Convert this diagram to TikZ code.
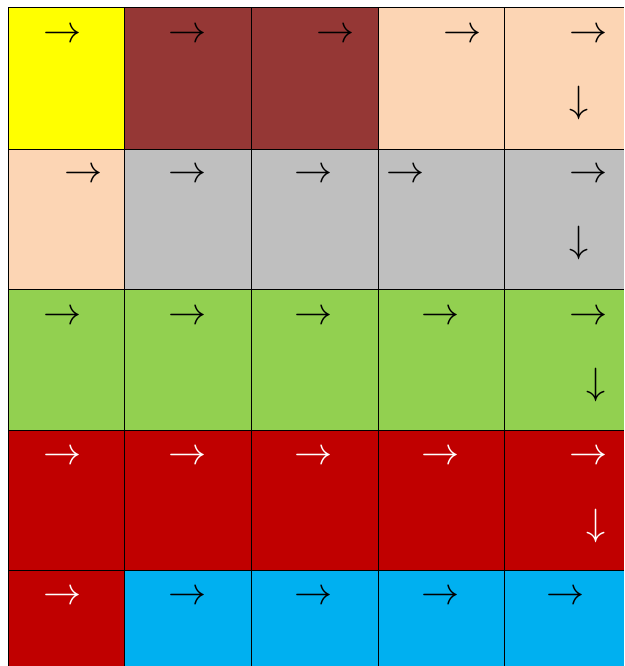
\documentclass[tikz,border=0pt]{standalone}
\usepackage{xcolor}
\usetikzlibrary{positioning}
\definecolor{yel}{HTML}{FFFF00}
\definecolor{brn}{HTML}{953735}
\definecolor{pch}{HTML}{FCD5B4}
\definecolor{gry}{HTML}{BFBFBF}
\definecolor{grn}{HTML}{92D050}
\definecolor{dkred}{HTML}{C00000}
\definecolor{blu}{HTML}{00B0F0}

\begin{document}
\begin{tikzpicture}[x=1pt, y=-1pt,
    every node/.style={inner sep=0pt, outer sep=0pt},
    cell/.style={anchor=north west},
    arr/.style={font=\Huge, scale=1.53},
    grid/.style={line width=1pt}]
    \useasboundingbox (0,0) rectangle (624,666);
    % coloured cells, row by row
    \foreach \y/\h/\cols [count=\i] in {8/141/{yel,brn,brn,pch,pch},
        149/140/{pch,gry,gry,gry,gry}, 289/141/{grn,grn,grn,grn,grn},
        430/140/{dkred,dkred,dkred,dkred,dkred}, 570/96/{dkred,blu,blu,blu,blu}}
        \foreach \c [count=\j] in \cols {
            \pgfmathsetmacro\xa{{8,124,251,378,504}[\j-1]}
            \pgfmathsetmacro\w{{116,127,127,126,120}[\j-1]}
            \node[cell, fill=\c, minimum width=\w pt, minimum height=\h pt]
                (c\i\j) at (\xa,\y) {};
        };
    % grid lines
    \foreach \j in {1,...,5}
        \draw[grid] (c1\j.north west) -- (c5\j.south west);
    \foreach \i in {1,...,5}
        \draw[grid] (c\i1.north west) -- (c\i5.north east);
    % right arrows
    \foreach \x/\y/\col [count=\k] in {63/36/black, 188/36/black, 336/36/black,
        463/36/black, 589/36/black,
        84/176/black, 188/176/black, 314/176/black, 406/176/black, 589/176/black,
        63/318/black, 188/318/black, 314/318/black, 441/318/black, 589/318/black,
        63/458/white, 188/458/white, 314/458/white, 441/458/white, 589/458/white,
        63/598/white, 188/598/black, 314/598/black, 441/598/black, 566/598/black}
        \node[arr, text=\col] (r\k) at (\x,\y) {$\rightarrow$};
    % down arrows
    \foreach \x/\y/\col [count=\k] in {579/103/black, 579/243/black,
        596/385/black, 596/526/white}
        \node[arr, text=\col] (d\k) at (\x,\y) {$\downarrow$};
\end{tikzpicture}
\end{document}
